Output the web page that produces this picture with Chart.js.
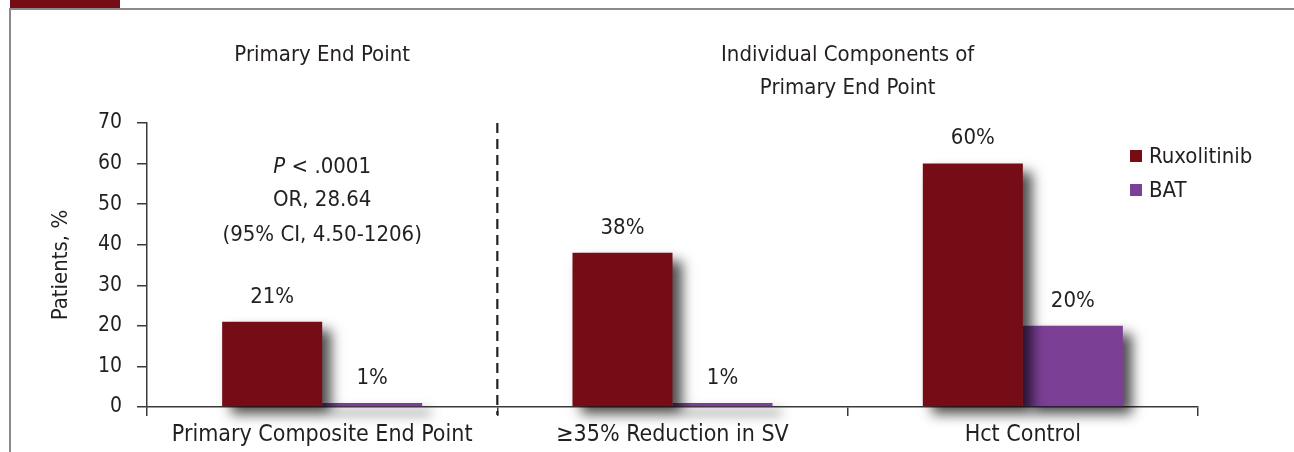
<!DOCTYPE html>
<html><head><meta charset="utf-8">
<script src="https://cdn.jsdelivr.net/npm/chart.js@4.4.1/dist/chart.umd.min.js"></script>
<style>
html,body{margin:0;padding:0;background:#fff;}
#wrap{position:relative;width:1294px;height:452px;overflow:hidden;background:#fff;}
#tab{position:absolute;left:10px;top:0;width:110px;height:8px;background:#760d16;}
#topline{position:absolute;left:10px;top:8px;right:0;height:2px;background:#8a8a8a;}
#leftline{position:absolute;left:9px;top:8px;width:2px;bottom:0;background:#8a8a8a;}
canvas{position:absolute;left:0;top:0;}
</style></head><body>
<div id="wrap"><div id="tab"></div><div id="topline"></div><div id="leftline"></div>
<canvas id="c" width="1294" height="452"></canvas></div>
<script>
const categories = ['Primary Composite End Point', '\u226535% Reduction in SV', 'Hct Control'];
const seriesNames = ['Ruxolitinib', 'BAT'];
const ruxolitinib = [21, 38, 60];
const bat = [1, 1, 20];
const yTicks = [0, 10, 20, 30, 40, 50, 60, 70];
const panelTitles = [['Primary End Point'], ['Individual Components of', 'Primary End Point']];
const statLines = ['OR, 28.64', '(95% CI, 4.50-1206)'];

const FONT = '"Liberation Sans Narrow", "DejaVu Sans Condensed", "Arial Narrow", sans-serif';
const TXT = '#231f20';
const colors = ['#760d16', '#7b3f95'];

const deco = {
  id: 'deco',
  beforeDatasetsDraw(chart) {
    const ctx = chart.ctx;
    ctx.save();
    ctx.shadowColor = 'rgba(0,0,0,0.7)';
    ctx.shadowBlur = 12;
    ctx.shadowOffsetX = 9;
    ctx.shadowOffsetY = 8;
  },
  afterDatasetsDraw(chart) {
    const ctx = chart.ctx;
    ctx.restore();
    const x = chart.scales.x, y = chart.scales.y;
    ctx.save();
    ctx.fillStyle = TXT;
    ctx.textAlign = 'center';
    ctx.textBaseline = 'middle';
    // value labels
    ctx.font = '22px ' + FONT;
    chart.data.datasets.forEach((ds, di) => {
      const meta = chart.getDatasetMeta(di);
      meta.data.forEach((bar, i) => {
        ctx.fillText(ds.data[i] + '%', bar.x, bar.y - 25);
      });
    });
    // dashed separator
    const sx = x.getPixelForValue(0.5);
    ctx.strokeStyle = TXT;
    ctx.lineWidth = 2.2;
    ctx.setLineDash([10, 6]);
    ctx.beginPath();
    ctx.moveTo(sx, chart.chartArea.top);
    ctx.lineTo(sx, chart.chartArea.bottom + 8);
    ctx.stroke();
    ctx.setLineDash([]);
    // panel titles
    ctx.font = '22px ' + FONT;
    const c0 = x.getPixelForValue(0), c1 = x.getPixelForValue(1.5);
    panelTitles[0].forEach((t, i) => ctx.fillText(t, c0, 55 + i * 33));
    panelTitles[1].forEach((t, i) => ctx.fillText(t, c1, 55 + i * 33));
    // stats annotation
    const pItalic = 'italic 22px ' + FONT, pNorm = '22px ' + FONT;
    const rest = ' < .0001';
    ctx.font = pItalic; const wP = ctx.measureText('P').width;
    ctx.font = pNorm; const wR = ctx.measureText(rest).width;
    const startX = c0 - (wP + wR) / 2;
    ctx.textAlign = 'left';
    ctx.font = pItalic; ctx.fillText('P', startX, 167);
    ctx.font = pNorm; ctx.fillText(rest, startX + wP, 167);
    ctx.textAlign = 'center';
    statLines.forEach((t, i) => ctx.fillText(t, c0, 200 + i * 35));
    // legend
    ctx.textAlign = 'left';
    ctx.font = '22px ' + FONT;
    seriesNames.forEach((n, i) => {
      const ly = 156 + i * 34;
      ctx.fillStyle = colors[i];
      ctx.fillRect(1130, ly - 6, 12, 12);
      ctx.fillStyle = TXT;
      ctx.fillText(n, 1149, ly + 1);
    });
    ctx.restore();
  }
};

new Chart(document.getElementById('c'), {
  type: 'bar',
  data: {
    labels: categories,
    datasets: [
      { label: seriesNames[0], data: ruxolitinib, backgroundColor: colors[0], clip: false },
      { label: seriesNames[1], data: bat, backgroundColor: colors[1], clip: false }
    ]
  },
  options: {
    responsive: false,
    animation: false,
    events: [],
    layout: { padding: { left: 40, right: 96, top: 123, bottom: 0 } },
    datasets: { bar: { categoryPercentage: 0.571, barPercentage: 1.0 } },
    plugins: { legend: { display: false }, tooltip: { enabled: false } },
    scales: {
      x: {
        afterFit: s => { s.height = 45; },
        border: { display: true, color: '#3a3a3a', width: 1.5 },
        grid: { display: true, offset: true, drawOnChartArea: false, drawTicks: true, tickLength: 9, color: '#3a3a3a', lineWidth: 1.5 },
        ticks: { color: TXT, font: { family: FONT, size: 23 }, padding: 5, maxRotation: 0, autoSkip: false }
      },
      y: {
        min: 0, max: 70,
        afterFit: s => { s.width = 107; },
        afterBuildTicks: s => { s.ticks = yTicks.map(v => ({ value: v })); },
        border: { display: true, color: '#3a3a3a', width: 1.5 },
        grid: { display: true, drawOnChartArea: false, drawTicks: true, tickLength: 10, color: '#3a3a3a', lineWidth: 1.5 },
        ticks: { color: TXT, font: { family: FONT, size: 21 }, padding: 15 },
        title: { display: true, text: 'Patients, %', color: TXT, font: { family: FONT, size: 22 }, padding: { top: 8, bottom: 0 } }
      }
    }
  },
  plugins: [deco]
});
</script>
</body></html>
